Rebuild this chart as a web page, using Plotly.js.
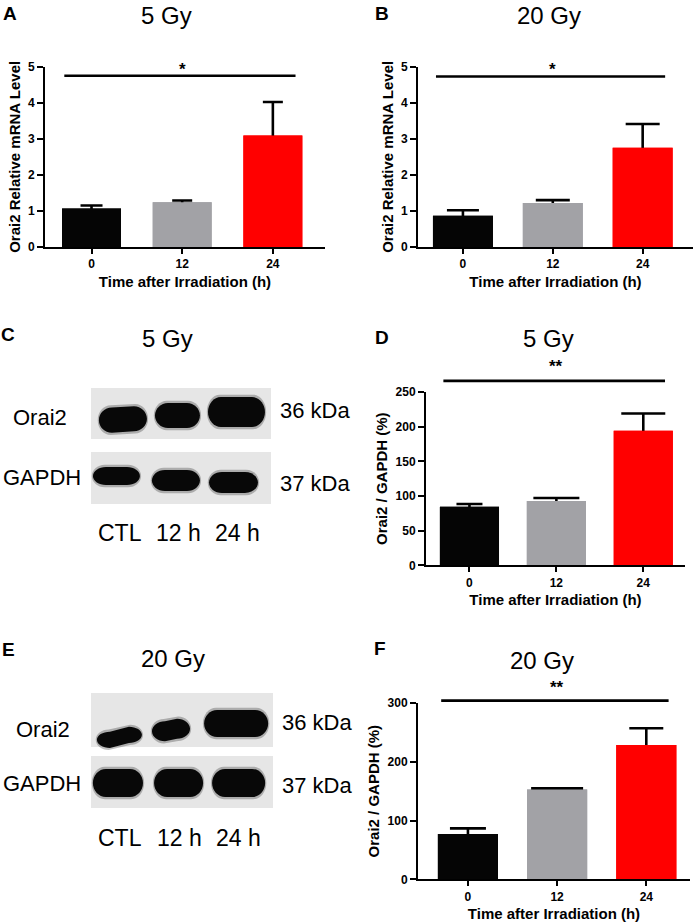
<!DOCTYPE html>
<html><head><meta charset="utf-8">
<script src="https://cdn.plot.ly/plotly-3.0.1.min.js"></script>
<style>html,body{margin:0;padding:0;background:#fff;} #chart{width:699px;height:924px;}</style>
</head><body><div id="chart"></div>
<script>
// ---------------- data ----------------
const timeCats = ['0', '12', '24'];
const mrna5Gy = [1.07, 1.24, 3.09];
const mrna5GySem = [0.08, 0.05, 0.93];
const mrna20Gy = [0.87, 1.22, 2.75];
const mrna20GySem = [0.15, 0.08, 0.66];
const prot5Gy = [84.5, 92.8, 194];
const prot5GySem = [4.0, 4.2, 25];
const prot20Gy = [77, 153, 228.5];
const prot20GySem = [9.7, 2.0, 28.5];
const sigLabels = ['*', '*', '**', '**'];
const sigLevels = [4.75, 4.73, 266, 304];
const panelTitles = ['5 Gy', '20 Gy', '5 Gy', '5 Gy', '20 Gy', '20 Gy'];
const panelLetters = ['A', 'B', 'C', 'D', 'E', 'F'];
const xTitle = 'Time after Irradiation (h)';
const yTitles = ['Orai2 Relative mRNA Level', 'Orai2 Relative mRNA Level', 'Orai2 / GAPDH (%)', 'Orai2 / GAPDH (%)'];
const laneLabels = ['CTL', '12 h', '24 h'];
const blotRows = ['Orai2', 'GAPDH'];
const blotMw = ['36 kDa', '37 kDa'];

// ---------------- styles / geometry ----------------
const barColors = ['#050505', '#a2a2a6', '#ff0000'];
const W = 699, H = 924;
const px = v => v / W, py = v => 1 - v / H;
const FONT = '"Liberation Sans", Arial, sans-serif';
const BOLD = (s) => ({family: FONT, size: s, weight: 'bold', color: '#000'});
const REG = (s) => ({family: FONT, size: s, color: '#000'});

const panels = [
  {id: '',  vals: mrna5Gy,  sem: mrna5GySem,  ymax: 5,   dtick: 1,   x: [45, 325],  y: [66.7, 247],  xr: [-0.513, 2.575], bw: 0.65,  caps: [11, 10, 10], starShift: -5},
  {id: '2', vals: mrna20Gy, sem: mrna20GySem, ymax: 5,   dtick: 1,   x: [418, 693], y: [66.7, 247],  xr: [-0.5, 2.56],    bw: 0.667, caps: [16, 17, 17], starShift: -5},
  {id: '3', vals: prot5Gy,  sem: prot5GySem,  ymax: 250, dtick: 50,  x: [426, 685], y: [392, 565.3], xr: [-0.5, 2.48],    bw: 0.68,  caps: [13, 23, 22], starShift: 3},
  {id: '4', vals: prot20Gy, sem: prot20GySem, ymax: 300, dtick: 100, x: [418, 690], y: [703, 879.3], xr: [-0.56, 2.49],   bw: 0.674, caps: [18, 26, 17], starShift: 2}
];

const data = [];
const layout = {
  width: W, height: H,
  margin: {l: 0, r: 0, t: 0, b: 0, pad: 0},
  paper_bgcolor: '#fff', plot_bgcolor: 'rgba(0,0,0,0)',
  showlegend: false, barmode: 'overlay',
  shapes: [], annotations: []
};

panels.forEach((p, k) => {
  const xa = 'x' + p.id, ya = 'y' + p.id;
  timeCats.forEach((c, i) => {
    // bar with (symmetric) SEM error bar; the lower half is hidden under the bar drawn next
    data.push({
      type: 'bar', x: [c], y: [p.vals[i]], xaxis: xa, yaxis: ya, width: [p.bw],
      marker: {color: barColors[i], line: {width: 0}},
      error_y: {type: 'data', array: [p.sem[i]], color: '#000', thickness: 2.6, width: p.caps[i]},
      hoverinfo: 'skip', showlegend: false
    });
  });
  timeCats.forEach((c, i) => {
    data.push({
      type: 'bar', x: [c], y: [p.vals[i]], xaxis: xa, yaxis: ya, width: [p.bw],
      marker: {color: barColors[i], line: {width: 0}},
      hoverinfo: 'skip', showlegend: false
    });
  });
  layout['xaxis' + p.id] = {
    domain: [px(p.x[0]), px(p.x[1])], anchor: ya, type: 'category', range: p.xr,
    showline: true, linecolor: '#000', linewidth: 2, mirror: false,
    ticks: 'outside', ticklen: 5, tickwidth: 2, tickcolor: '#000',
    tickfont: BOLD(12), showgrid: false, zeroline: false, fixedrange: true,
    title: {text: xTitle, font: BOLD(15), standoff: 6}
  };
  layout['yaxis' + p.id] = {
    domain: [py(p.y[1]), py(p.y[0])], anchor: xa, range: [0, p.ymax], tick0: 0, dtick: p.dtick,
    showline: true, linecolor: '#000', linewidth: 2,
    ticks: 'outside', ticklen: 6, tickwidth: 2, tickcolor: '#000',
    tickfont: BOLD(12), showgrid: false, zeroline: false, fixedrange: true,
    title: {text: yTitles[k], font: BOLD(15), standoff: 4}
  };
  // significance bar and stars
  layout.shapes.push({type: 'line', xref: xa, yref: ya + ' domain',
    x0: -0.3, x1: 2.25, y0: sigLevels[k] / p.ymax, y1: sigLevels[k] / p.ymax,
    line: {color: '#000', width: 2.6}});
  layout.annotations.push({xref: xa, yref: ya + ' domain', x: 1, y: sigLevels[k] / p.ymax,
    text: sigLabels[k], showarrow: false, yanchor: 'bottom', yshift: p.starShift,
    font: BOLD(17)});
});

// ---------------- western blots ----------------
const blots = [
  {id: '5', x: [91, 271], y: [388, 504], xr: [-0.49, 2.56], yr: [-0.403, 1.395], boxHalf: [0.395, 0.403],
   laneY: 533, rowLabelX: [40, 42], rowShift: [-4, 1], mwX: 278, mwShift: [3, -5],
   bands: [ // row Orai2 (1), row GAPDH (0): [dx, halfW, top, bottom, tilt]
     [[0.051, 0.407, 0.101, -0.287, 0.02], [-0.025, 0.381, 0.163, -0.225, 0], [-0.025, 0.483, 0.256, -0.209, 0]],
     [[-0.059, 0.398, 0.171, -0.109, 0], [-0.051, 0.407, 0.124, -0.202, 0], [-0.076, 0.415, 0.093, -0.233, 0]]
   ]},
  {id: '6', x: [91, 273], y: [693, 808], xr: [-0.49, 2.59], yr: [-0.419, 1.435], boxHalf: [0.435, 0.419],
   laneY: 838, rowLabelX: [43, 42], rowShift: [-10, -1], mwX: 280, mwShift: [-3, -3],
   bands: [
     [[-0.009, 0.381, -0.15, -0.41, 0.08], [-0.136, 0.322, 0.0, -0.323, 0.04], [-0.034, 0.542, 0.161, -0.274, 0]],
     [[-0.034, 0.424, 0.21, -0.242, 0], [-0.008, 0.415, 0.21, -0.242, 0], [0.008, 0.449, 0.21, -0.242, 0]]
   ]}
];

function bandPath(x0, x1, yT, yB, tilt) {
  const rx = Math.min(0.22, (x1 - x0) / 2), k = 0.55;
  const tl = -tilt / 2, tr = tilt / 2;
  const ymL = (yT + yB) / 2 + tl, ymR = (yT + yB) / 2 + tr;
  const hy = (yT - yB) / 2;
  const f = v => v.toFixed(4);
  return 'M' + f(x0 + rx) + ',' + f(yT + tl) +
    ' L' + f(x1 - rx) + ',' + f(yT + tr) +
    ' C' + f(x1 - rx + k * rx) + ',' + f(yT + tr) + ' ' + f(x1) + ',' + f(ymR + k * hy) + ' ' + f(x1) + ',' + f(ymR) +
    ' C' + f(x1) + ',' + f(ymR - k * hy) + ' ' + f(x1 - rx + k * rx) + ',' + f(yB + tr) + ' ' + f(x1 - rx) + ',' + f(yB + tr) +
    ' L' + f(x0 + rx) + ',' + f(yB + tl) +
    ' C' + f(x0 + rx - k * rx) + ',' + f(yB + tl) + ' ' + f(x0) + ',' + f(ymL - k * hy) + ' ' + f(x0) + ',' + f(ymL) +
    ' C' + f(x0) + ',' + f(ymL + k * hy) + ' ' + f(x0 + rx - k * rx) + ',' + f(yT + tl) + ' ' + f(x0 + rx) + ',' + f(yT + tl) + ' Z';
}

blots.forEach((b, bi) => {
  const xa = 'x' + b.id, ya = 'y' + b.id;
  layout['xaxis' + b.id] = {domain: [px(b.x[0]), px(b.x[1])], anchor: ya, range: b.xr, visible: false, fixedrange: true};
  layout['yaxis' + b.id] = {domain: [py(b.y[1]), py(b.y[0])], anchor: xa, range: b.yr, visible: false, fixedrange: true};
  blotRows.forEach((name, r) => {
    const rowVal = 1 - r; // Orai2 on top
    layout.shapes.push({type: 'rect', layer: 'below', xref: xa + ' domain', yref: ya, x0: 0, x1: 1,
      y0: rowVal - b.boxHalf[r], y1: rowVal + b.boxHalf[r], fillcolor: '#e6e6e6', line: {width: 0}});
    laneLabels.forEach((ln, i) => {
      const d = b.bands[r][i];
      const x0 = i + d[0] - d[1], x1 = i + d[0] + d[1];
      layout.shapes.push({type: 'path', xref: xa, yref: ya,
        path: bandPath(x0 - 0.02, x1 + 0.02, rowVal + d[2] + 0.035, rowVal + d[3] - 0.035, d[4]),
        fillcolor: 'rgba(20,20,20,0.28)', line: {width: 0}});
      layout.shapes.push({type: 'path', xref: xa, yref: ya,
        path: bandPath(x0, x1, rowVal + d[2], rowVal + d[3], d[4]),
        fillcolor: '#080808', line: {width: 0}});
    });
    layout.annotations.push({xref: 'paper', yref: ya, x: px(b.rowLabelX[r]), y: rowVal, yshift: b.rowShift[r],
      text: name, showarrow: false, xanchor: 'center', yanchor: 'middle', font: REG(22)});
    layout.annotations.push({xref: 'paper', yref: ya, x: px(b.mwX), y: rowVal, yshift: b.mwShift[r],
      text: blotMw[r], showarrow: false, xanchor: 'left', yanchor: 'middle', font: REG(22)});
  });
  laneLabels.forEach((ln, i) => {
    layout.annotations.push({xref: xa, yref: 'paper', x: i, y: py(b.laneY),
      text: ln, showarrow: false, xanchor: 'center', yanchor: 'middle', font: REG(23)});
  });
});

// ---------------- titles & panel letters ----------------
const titlePos = [[166, 15], [549, 15], [167, 339], [548, 339], [173, 658], [542, 660]];
const letterPos = [[10, 14], [382, 14], [8, 335], [382, 337], [8, 649], [380, 648]];
panelTitles.forEach((t, i) => {
  layout.annotations.push({xref: 'paper', yref: 'paper', x: px(titlePos[i][0]), y: py(titlePos[i][1]),
    text: t, showarrow: false, xanchor: 'center', yanchor: 'middle', font: REG(24)});
  layout.annotations.push({xref: 'paper', yref: 'paper', x: px(letterPos[i][0]), y: py(letterPos[i][1]),
    text: panelLetters[i], showarrow: false, xanchor: 'center', yanchor: 'middle', font: BOLD(19)});
});

Plotly.newPlot('chart', data, layout, {staticPlot: true, displayModeBar: false});
</script>
</body></html>
